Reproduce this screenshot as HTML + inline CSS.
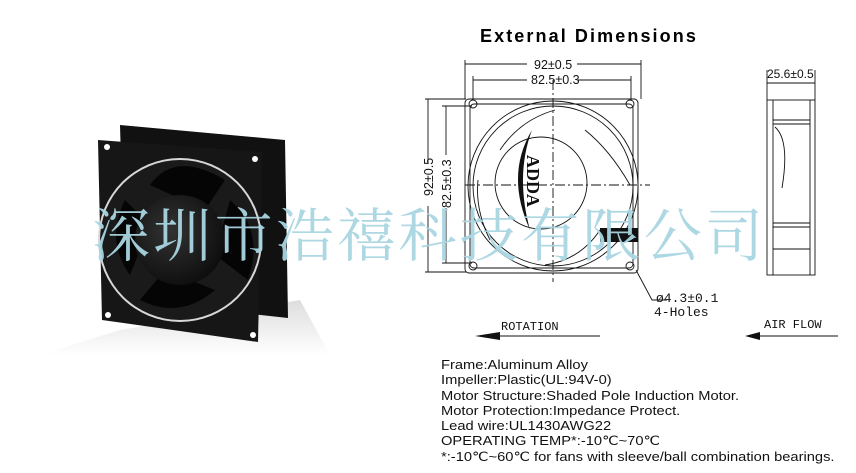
<!DOCTYPE html>
<html><head><meta charset="utf-8"><style>
html,body{margin:0;width:856px;height:473px;overflow:hidden}
body{background:#fff;position:relative;font-family:"Liberation Sans",sans-serif}
.spec{position:absolute;left:441px;top:357px;font-size:13px;line-height:15.3px;color:#111;transform:scaleX(1.13);transform-origin:0 0;white-space:nowrap}
.wm{position:absolute;left:92px;top:196px;font-family:"Noto Serif CJK SC","Noto Sans CJK SC",serif;font-size:58px;line-height:70px;letter-spacing:3.3px;color:#a9d6e2;white-space:nowrap;opacity:.95}
</style></head><body>
<svg width="856" height="473" style="position:absolute;left:0;top:0">
<defs><linearGradient id="fl" x1="0" y1="0" x2="0" y2="1"><stop offset="0" stop-color="#ddd"/><stop offset="1" stop-color="#fff"/></linearGradient>
<radialGradient id="hub" cx="0.4" cy="0.4" r="0.7"><stop offset="0" stop-color="#333"/><stop offset="1" stop-color="#0a0a0a"/></radialGradient></defs>
<polygon points="40,355 120,330 300,300 330,355" fill="url(#fl)"/>
<polygon points="120,125 285,140 288,318 125,300" fill="#111"/>
<polygon points="98,140 262,152 258,342 102,320" fill="#161616"/>
<circle cx="180" cy="240" r="82" fill="#d8d8d8"/>
<circle cx="180" cy="240" r="80" fill="#1a1a1a"/>
<path d="M150,185 Q175,150 225,180 L205,210 Z M230,200 Q265,230 248,280 L215,255 Z M215,290 Q180,320 140,300 L165,270 Z M130,275 Q105,240 125,200 L150,225 Z" fill="#050505"/>
<circle cx="180" cy="240" r="45" fill="url(#hub)"/>
<circle cx="107" cy="147" r="3" fill="#fff"/><circle cx="255" cy="159" r="3" fill="#fff"/><circle cx="108" cy="315" r="3" fill="#fff"/><circle cx="253" cy="335" r="3" fill="#fff"/>
<text x="480" y="42" font-family="Liberation Sans" font-weight="bold" font-size="18" letter-spacing="2.1">External Dimensions</text>
<g stroke="#111" fill="none" stroke-width="0.9">
<rect x="465" y="99" width="173" height="174" rx="4"/>
<rect x="470" y="104" width="163" height="164" rx="4"/>
<circle cx="553" cy="186" r="85"/>
<circle cx="553" cy="186" r="80"/>
<circle cx="541" cy="183" r="46"/>
<circle cx="473" cy="104" r="4"/><circle cx="630" cy="104" r="4"/><circle cx="473" cy="266" r="4"/><circle cx="630" cy="266" r="4"/>
<path d="M500,150 Q520,120 555,110 M585,130 Q610,150 630,185 M600,230 Q580,260 545,265 M490,240 Q475,210 478,180"/>
<line x1="553" y1="80" x2="553" y2="282" stroke-dasharray="10,3,2,3"/>
<line x1="465" y1="185" x2="650" y2="185" stroke-dasharray="10,3,2,3"/>
<line x1="465" y1="60" x2="465" y2="99"/><line x1="641" y1="60" x2="641" y2="99"/>
<line x1="465" y1="64" x2="527" y2="64"/><line x1="577" y1="64" x2="641" y2="64"/>
<line x1="473" y1="76" x2="473" y2="100"/><line x1="631" y1="76" x2="631" y2="100"/>
<line x1="473" y1="80" x2="527" y2="80"/><line x1="578" y1="80" x2="631" y2="80"/>
<line x1="425" y1="99" x2="466" y2="99"/><line x1="425" y1="272" x2="466" y2="272"/>
<line x1="428" y1="99" x2="428" y2="163"/><line x1="428" y1="206" x2="428" y2="272"/>
<line x1="442" y1="106" x2="472" y2="106"/><line x1="442" y1="263" x2="472" y2="263"/>
<line x1="446" y1="106" x2="446" y2="155"/><line x1="446" y1="208" x2="446" y2="263"/>
<polyline points="636,270 652,300 667,300"/>
<rect x="767" y="100" width="48" height="175"/>
<line x1="773" y1="100" x2="773" y2="275"/><line x1="810" y1="100" x2="810" y2="275"/>
<line x1="773" y1="120" x2="810" y2="120"/><line x1="773" y1="124" x2="810" y2="124"/>
<line x1="773" y1="223" x2="810" y2="223"/><line x1="773" y1="227" x2="810" y2="227"/>
<line x1="773" y1="249" x2="810" y2="249"/>
<path d="M775,127 Q790,140 782,188"/>
<line x1="767" y1="70" x2="767" y2="100"/><line x1="815" y1="70" x2="815" y2="100"/>
<line x1="767" y1="83" x2="815" y2="83"/>
<line x1="500" y1="336" x2="600" y2="336"/>
<line x1="755" y1="336" x2="838" y2="336"/>
</g>
<path d="M475,336 L500,332 L500,340 Z M745,336 L760,332 L760,340 Z" fill="#111"/>
<path d="M532,130 Q505,175 530,230 Q515,175 532,130Z" fill="#111"/>
<rect x="600" y="228" width="38" height="14" fill="#111"/>
<g font-family="Liberation Sans Narrow,Liberation Sans" font-size="12.5" fill="#111">
<text x="534" y="69">92±0.5</text>
<text x="531" y="84">82.5±0.3</text>
<text transform="translate(433,196) rotate(-90)">92±0.5</text>
<text transform="translate(451,208) rotate(-90)">82.5±0.3</text>
<text x="767" y="78" font-size="12">25.6±0.5</text>
<text x="656" y="302" font-family="Liberation Mono" font-size="13">ø4.3±0.1</text>
<text x="654" y="316" font-family="Liberation Mono" font-size="13">4-Holes</text>
<text x="501" y="330" font-family="Liberation Mono" font-size="12">ROTATION</text>
<text x="764" y="328" font-family="Liberation Mono" font-size="12">AIR FLOW</text>
<text transform="translate(527,155) rotate(90)" font-family="Liberation Serif" font-weight="bold" font-size="18">ADDA</text>
</g>
</svg>
<div class="wm">深圳市浩禧科技有限公司</div>
<div class="spec">Frame:Aluminum Alloy<br>Impeller:Plastic(UL:94V-0)<br>Motor Structure:Shaded Pole Induction Motor.<br>Motor Protection:Impedance Protect.<br>Lead wire:UL1430AWG22<br>OPERATING TEMP*:-10℃~70℃<br>*:-10℃~60℃ for fans with sleeve/ball combination bearings.</div>
</body></html>
